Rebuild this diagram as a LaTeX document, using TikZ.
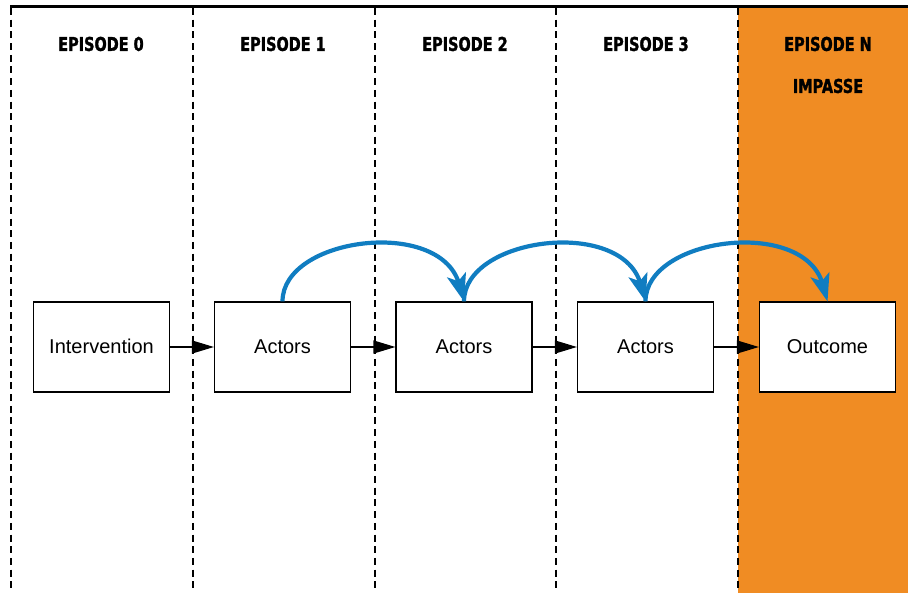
\documentclass[tikz,border=0pt]{standalone}
\usepackage{fontspec}
\setmainfont{Liberation Sans}
\newfontfamily\hdfont[FakeStretch=0.76,FakeBold=1.5]{DejaVu Sans}
\usetikzlibrary{arrows.meta}
\definecolor{impasse}{HTML}{F08C23}
\definecolor{loopblue}{HTML}{107DC1}
\tikzset{
  stagebox/.style={draw=black, line width=1.2pt, fill=white, minimum width=136pt, minimum height=90pt, inner sep=0pt, font=\fontsize{20}{24}\selectfont},
  header/.style={font=\hdfont\bfseries\fontsize{19}{22}\selectfont, inner sep=0pt},
  divider/.style={line width=1.8pt, dash pattern=on 7pt off 4.7pt},
  flowarrow/.style={line width=1.2pt, -{Triangle[length=22pt,width=13pt]}},
  carryarrow/.style={draw=loopblue, line width=4.2pt},
  carryhead/.style={fill=loopblue}
}
\begin{document}
\begin{tikzpicture}[x=1pt,y=-1pt]
\useasboundingbox (0,0) rectangle (908,593);
\fill[impasse] (738,8) rectangle (908,593);
\foreach \x in {11,193,375,556,738}{
  \draw[divider] (\x,8) -- (\x,593);
}
\draw[line width=3pt] (10,7) -- (908,7);

\node[header] (h0) at (101,44) {EPISODE 0};
\node[header] (h1) at (283,44) {EPISODE 1};
\node[header] (h2) at (465,44) {EPISODE 2};
\node[header] (h3) at (646,44) {EPISODE 3};
\node[header] (hn) at (828,44) {EPISODE N};
\node[header] (hi) at (828,86) {IMPASSE};

\node[stagebox] (b0) at (101.5,347) {\raisebox{1.5pt}{Intervention}};
\node[stagebox] (b1) at (282.5,347) {\raisebox{1.5pt}{Actors}};
\node[stagebox] (b2) at (464,347) {\raisebox{1.5pt}{Actors}};
\node[stagebox] (b3) at (645.5,347) {\raisebox{1.5pt}{Actors}};
\node[stagebox] (b4) at (827.5,347) {\raisebox{1.5pt}{Outcome}};

\draw[flowarrow] (b0.east) -- (b1.west);
\draw[flowarrow] (b1.east) -- (b2.west);
\draw[flowarrow] (b2.east) -- (b3.west);
\draw[flowarrow] (b3.east) -- (b4.west);

\foreach \s/\t in {b1/b2,b2/b3,b3/b4}{
  \draw[carryarrow] (\s.north) .. controls +(0,-64) and +(-20,-66) .. ([shift={(-5.1,-18.2)}]\t.north);
  \fill[carryhead] (\t.north) -- ++(-17.2,-24.2) -- ++(11.5,4.0) -- ++(7.7,-9.4) -- cycle;
}
\end{tikzpicture}
\end{document}
